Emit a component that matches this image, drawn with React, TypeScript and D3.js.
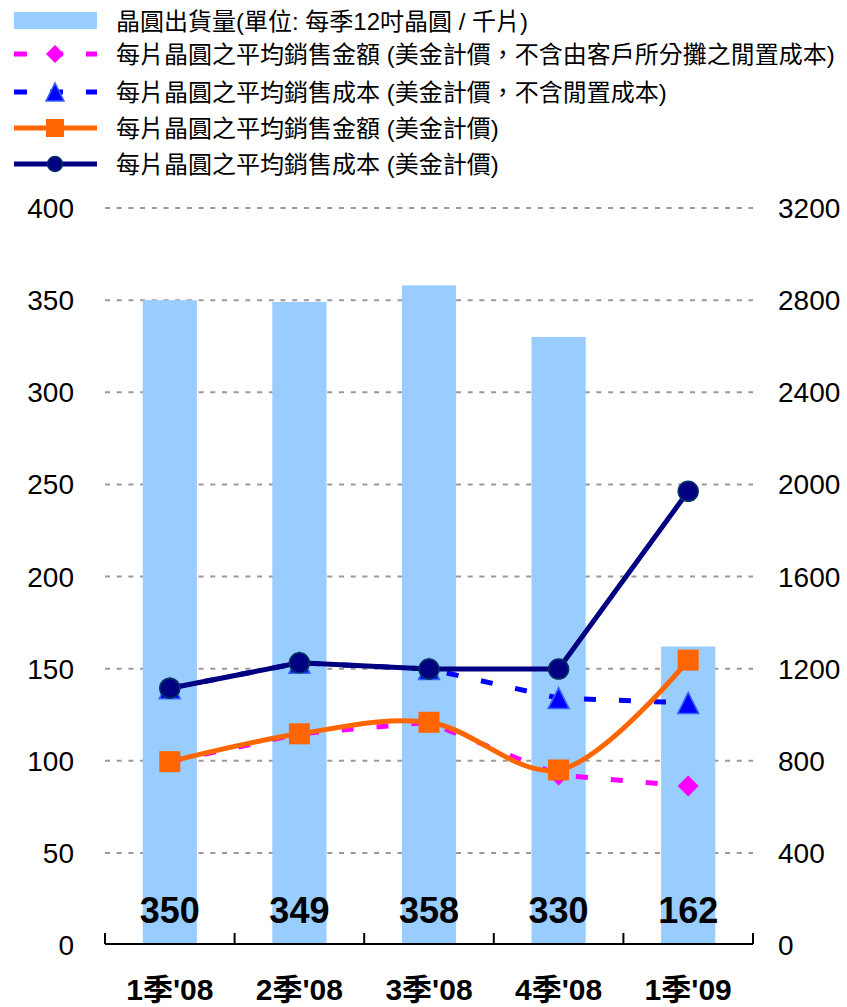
import { useRef, useEffect } from "react";
import * as d3 from "d3";

// ─── Data ────────────────────────────────────────────────────────────────────

const categories = ["1季'08", "2季'08", "3季'08", "4季'08", "1季'09"];

// wafer shipments (left axis, thousand 12" equiv per quarter)
const shipments = [350, 349, 358, 330, 162];

// right axis, USD per wafer
const priceExclIdle = [796, 917, 967, 738, 690];
const costExclIdle = [1115, 1225, 1198, 1072, 1051];
const avgPrice = [796, 917, 967, 760, 1237];
const avgCost = [1115, 1225, 1198, 1198, 1970];

const leftTicks = [0, 50, 100, 150, 200, 250, 300, 350, 400];
const rightTicks = [0, 400, 800, 1200, 1600, 2000, 2400, 2800, 3200];

const legendLabels = [
  "晶圓出貨量(單位: 每季12吋晶圓 / 千片)",
  "每片晶圓之平均銷售金額 (美金計價，不含由客戶所分攤之閒置成本)",
  "每片晶圓之平均銷售成本 (美金計價，不含閒置成本)",
  "每片晶圓之平均銷售金額 (美金計價)",
  "每片晶圓之平均銷售成本 (美金計價)",
];

const W = 847;
const H = 1007;
const PLOT = { left: 105, right: 753, top: 208, bottom: 945 };
const FONT = "'Liberation Sans', Arial, 'Noto Sans CJK TC', sans-serif";

const C = {
  bar: "#99CCFF",
  pink: "#FF00FF",
  blue: "#0000FF",
  orange: "#FF6600",
  navy: "#000080",
  grid: "#999999",
};

type Marker = "diamond" | "triangle" | "square" | "circle";

export default function App() {
  const svgRef = useRef<SVGSVGElement>(null);

  useEffect(() => {
    if (!svgRef.current) return;
    const svg = d3.select(svgRef.current);
    svg.selectAll("*").remove();

    // ── Scales ──────────────────────────────────────────────────────────────
    const x = d3.scaleBand<string>().domain(categories).range([PLOT.left, PLOT.right]).padding(0);
    const cx = (c: string) => (x(c) ?? 0) + x.bandwidth() / 2;
    const yL = d3.scaleLinear().domain([0, 400]).range([PLOT.bottom, PLOT.top]);
    const yR = d3.scaleLinear().domain([0, 3200]).range([PLOT.bottom, PLOT.top]);
    const barW = x.bandwidth() * 0.418;

    // ── Gridlines ───────────────────────────────────────────────────────────
    svg.append("g")
      .selectAll("line")
      .data(leftTicks.slice(1))
      .enter()
      .append("line")
      .attr("x1", PLOT.left)
      .attr("x2", PLOT.right)
      .attr("y1", (d) => yL(d))
      .attr("y2", (d) => yL(d))
      .attr("stroke", C.grid)
      .attr("stroke-width", 2)
      .attr("stroke-dasharray", "5,6.7");

    // ── Bars ────────────────────────────────────────────────────────────────
    svg.append("g")
      .selectAll("rect")
      .data(shipments)
      .enter()
      .append("rect")
      .attr("x", (_, i) => cx(categories[i]) - barW / 2)
      .attr("y", (d) => yL(d))
      .attr("width", barW)
      .attr("height", (d) => yL(0) - yL(d))
      .attr("fill", C.bar);

    svg.append("g")
      .selectAll("text")
      .data(shipments)
      .enter()
      .append("text")
      .attr("x", (_, i) => cx(categories[i]))
      .attr("y", 923)
      .attr("text-anchor", "middle")
      .attr("font-family", FONT)
      .attr("font-weight", "bold")
      .attr("font-size", 36)
      .attr("fill", "#000")
      .text((d) => d);

    // ── Axes ────────────────────────────────────────────────────────────────
    const axisY = 944;
    const ax = svg.append("g");
    ax.append("line")
      .attr("x1", PLOT.left).attr("x2", PLOT.right)
      .attr("y1", axisY).attr("y2", axisY)
      .attr("stroke", "#000").attr("stroke-width", 2);
    const bounds = [...categories.map((c) => x(c) ?? 0), PLOT.right];
    ax.selectAll(".tick")
      .data(bounds)
      .enter()
      .append("line")
      .attr("x1", (d) => d).attr("x2", (d) => d)
      .attr("y1", axisY).attr("y2", axisY - 11)
      .attr("stroke", "#000").attr("stroke-width", 2);

    svg.append("g")
      .selectAll("text")
      .data(categories)
      .enter()
      .append("text")
      .attr("x", (d) => cx(d))
      .attr("y", 1000)
      .attr("text-anchor", "middle")
      .attr("font-family", FONT)
      .attr("font-weight", "bold")
      .attr("font-size", 30)
      .text((d) => d);

    svg.append("g")
      .selectAll("text")
      .data(leftTicks)
      .enter()
      .append("text")
      .attr("x", 74)
      .attr("y", (d) => yL(d) + 10)
      .attr("text-anchor", "end")
      .attr("font-family", FONT)
      .attr("font-size", 28)
      .text((d) => d);

    svg.append("g")
      .selectAll("text")
      .data(rightTicks)
      .enter()
      .append("text")
      .attr("x", 778)
      .attr("y", (d) => yR(d) + 10)
      .attr("text-anchor", "start")
      .attr("font-family", FONT)
      .attr("font-size", 28)
      .text((d) => d);

    // ── Markers ─────────────────────────────────────────────────────────────
    const drawMarker = (
      g: d3.Selection<SVGGElement, unknown, null, undefined>,
      kind: Marker,
      px: number,
      py: number,
      s: number
    ) => {
      if (kind === "circle") {
        g.append("circle").attr("cx", px).attr("cy", py).attr("r", s / 2)
          .attr("fill", C.navy).attr("stroke", "#003366").attr("stroke-width", 1.5);
      } else if (kind === "square") {
        g.append("rect").attr("x", px - s / 2).attr("y", py - s / 2)
          .attr("width", s).attr("height", s).attr("fill", C.orange);
      } else if (kind === "diamond") {
        const h = s / 2;
        g.append("path")
          .attr("d", `M${px},${py - h}L${px + h},${py}L${px},${py + h}L${px - h},${py}Z`)
          .attr("fill", C.pink);
      } else {
        const h = s / 2;
        g.append("path")
          .attr("d", `M${px},${py - h}L${px + h},${py + h}L${px - h},${py + h}Z`)
          .attr("fill", C.blue).attr("stroke", "#3366FF").attr("stroke-width", 1.5);
      }
    };

    // ── Lines ───────────────────────────────────────────────────────────────
    const series: {
      values: number[];
      color: string;
      dash: string | null;
      marker: Marker;
      size: number;
      curve: d3.CurveFactory;
    }[] = [
      { values: costExclIdle, color: C.blue, dash: "12,23", marker: "triangle", size: 21, curve: d3.curveLinear },
      { values: priceExclIdle, color: C.pink, dash: "12,23", marker: "diamond", size: 21, curve: d3.curveLinear },
      { values: avgPrice, color: C.orange, dash: null, marker: "square", size: 21, curve: d3.curveCatmullRom.alpha(0.5) },
      { values: avgCost, color: C.navy, dash: null, marker: "circle", size: 20, curve: d3.curveLinear },
    ];

    series.forEach((s) => {
      const g = svg.append("g");
      const line = d3
        .line<number>()
        .x((_, i) => cx(categories[i]))
        .y((d) => yR(d))
        .curve(s.curve);
      g.append("path")
        .attr("d", line(s.values) ?? "")
        .attr("fill", "none")
        .attr("stroke", s.color)
        .attr("stroke-width", 5)
        .attr("stroke-dasharray", s.dash ?? null);
      s.values.forEach((v, i) => drawMarker(g, s.marker, cx(categories[i]), yR(v), s.size));
    });

    // ── Legend ──────────────────────────────────────────────────────────────
    const rows = [21, 54, 92, 128, 164];
    const lg = svg.append("g");
    lg.append("rect").attr("x", 14).attr("y", 12).attr("width", 83).attr("height", 17).attr("fill", C.bar);
    const legendSeries = [series[1], series[0], series[2], series[3]];
    legendSeries.forEach((s, k) => {
      const yy = rows[k + 1];
      lg.append("line")
        .attr("x1", 14).attr("x2", 97)
        .attr("y1", yy).attr("y2", yy)
        .attr("stroke", s.color)
        .attr("stroke-width", 5)
        .attr("stroke-dasharray", s.dash ? "13,23" : null);
      drawMarker(lg as any, s.marker, 55, yy, s.marker === "circle" ? 15 : 18);
    });
    lg.selectAll("text")
      .data(legendLabels)
      .enter()
      .append("text")
      .attr("x", 116)
      .attr("y", (_, i) => rows[i] + 9)
      .attr("font-family", FONT)
      .attr("font-size", 24)
      .attr("fill", "#000")
      .text((d) => d);
  }, []);

  return (
    <svg
      ref={svgRef}
      width={W}
      height={H}
      style={{ position: "absolute", left: 0, top: 0, background: "#fff" }}
    />
  );
}
